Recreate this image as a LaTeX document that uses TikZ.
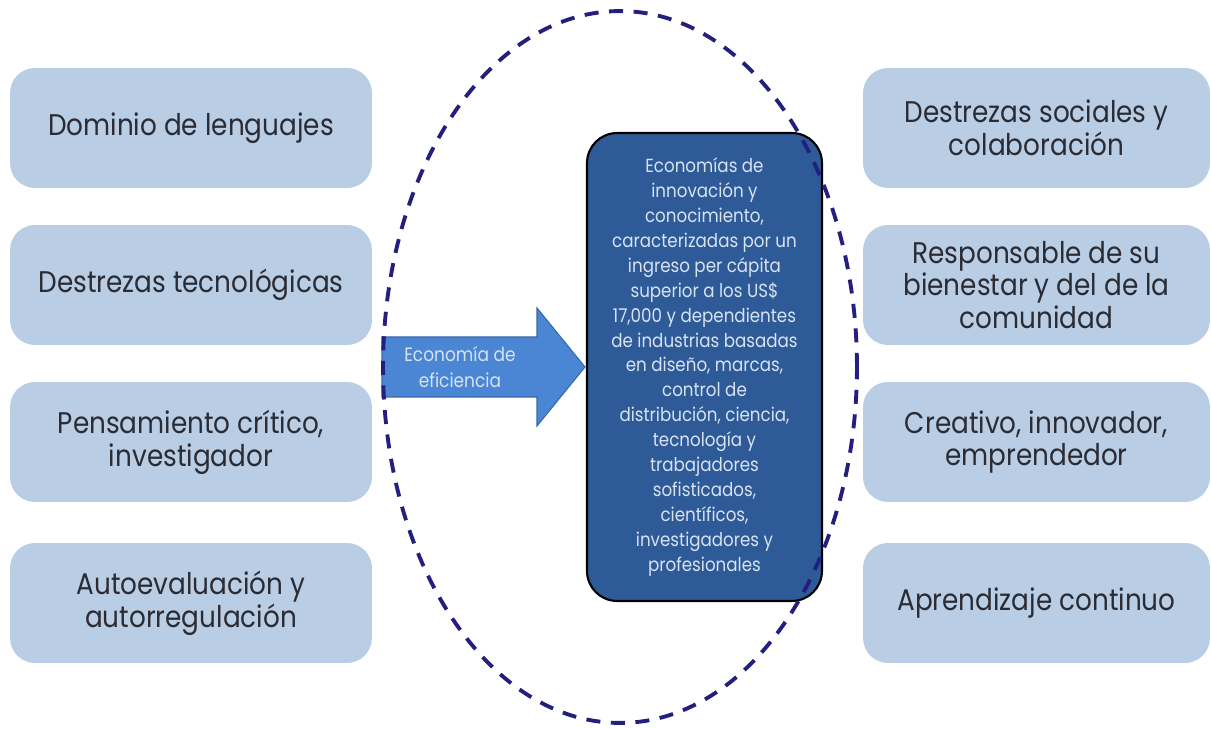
\documentclass[tikz,border=0pt]{standalone}
\usepackage{fontspec}
\setmainfont{Poppins}[FakeStretch=0.88]
\usepackage{tikz}

\definecolor{cajaclara}{HTML}{B9CDE5}
\definecolor{cajaoscura}{HTML}{2E5B97}
\definecolor{flechaazul}{HTML}{4A86D3}
\definecolor{bordeflecha}{HTML}{3867A6}
\definecolor{elipseazul}{HTML}{231F7E}
\definecolor{textogris}{HTML}{2B2B33}
\definecolor{textoclaro}{HTML}{D7E2F2}

\begin{document}
\begin{tikzpicture}[x=0.02cm, y=-0.02cm]
    \tikzstyle{caja}=[rounded corners=0.5cm,fill=cajaclara,text=textogris,align=center,minimum height=2.4cm,font=\fontsize{17}{18.7}\selectfont]
    \tikzstyle{izq}=[caja,minimum width=7.24cm]
    \tikzstyle{der}=[caja,minimum width=6.94cm]
    \tikzstyle{centro}=[draw=black,line width=1.2pt,rounded corners=0.6cm,fill=cajaoscura,text=textoclaro,align=center,minimum width=4.7cm,minimum height=9.36cm,font=\fontsize{10.8}{14.2}\selectfont]
    \tikzstyle{flecha}=[fill=flechaazul,draw=bordeflecha,line width=0.6pt]
    \tikzstyle{punteada}=[draw=elipseazul,line width=2.2pt,dash pattern=on 8pt off 6pt]

    \useasboundingbox (0,0) rectangle (1211,729);

    % columna izquierda
    \node[izq] (dominio) at (191,128) {Dominio de lenguajes};
    \node[izq] (tecno) at (191,285) {Destrezas tecnológicas};
    \node[izq] (critico) at (191,442) {Pensamiento crítico,\\investigador};
    \node[izq] (autoeval) at (191,603) {Autoevaluación y\\autorregulación};

    % columna derecha
    \node[der] (sociales) at (1036.5,128) {Destrezas sociales y\\colaboración};
    \node[der] (bienestar) at (1036.5,285) {Responsable de su\\bienestar y del de la\\comunidad};
    \node[der] (creativo) at (1036.5,442) {Creativo, innovador,\\emprendedor};
    \node[der] (continuo) at (1036.5,603) {Aprendizaje continuo};

    % flecha
    \path[flecha] (382,337) -- (537,337) -- (537,308) -- (585,367) -- (537,426) -- (537,397) -- (382,397) -- cycle;
    \node[text=textoclaro,align=center,font=\fontsize{11}{15}\selectfont] (eficiencia) at (460,367) {Economía de\\eficiencia};

    \node[centro] (innovacion) at (704.5,367) {Economías de\\innovación y\\conocimiento,\\caracterizadas por un\\ingreso per cápita\\superior a los US\$\\17,000 y dependientes\\de industrias basadas\\en diseño, marcas,\\control de\\distribución, ciencia,\\tecnología y\\trabajadores\\sofisticados,\\científicos,\\investigadores y\\profesionales};

    \path[punteada] (620,367) ellipse [x radius=4.74cm, y radius=7.12cm];
\end{tikzpicture}
\end{document}
